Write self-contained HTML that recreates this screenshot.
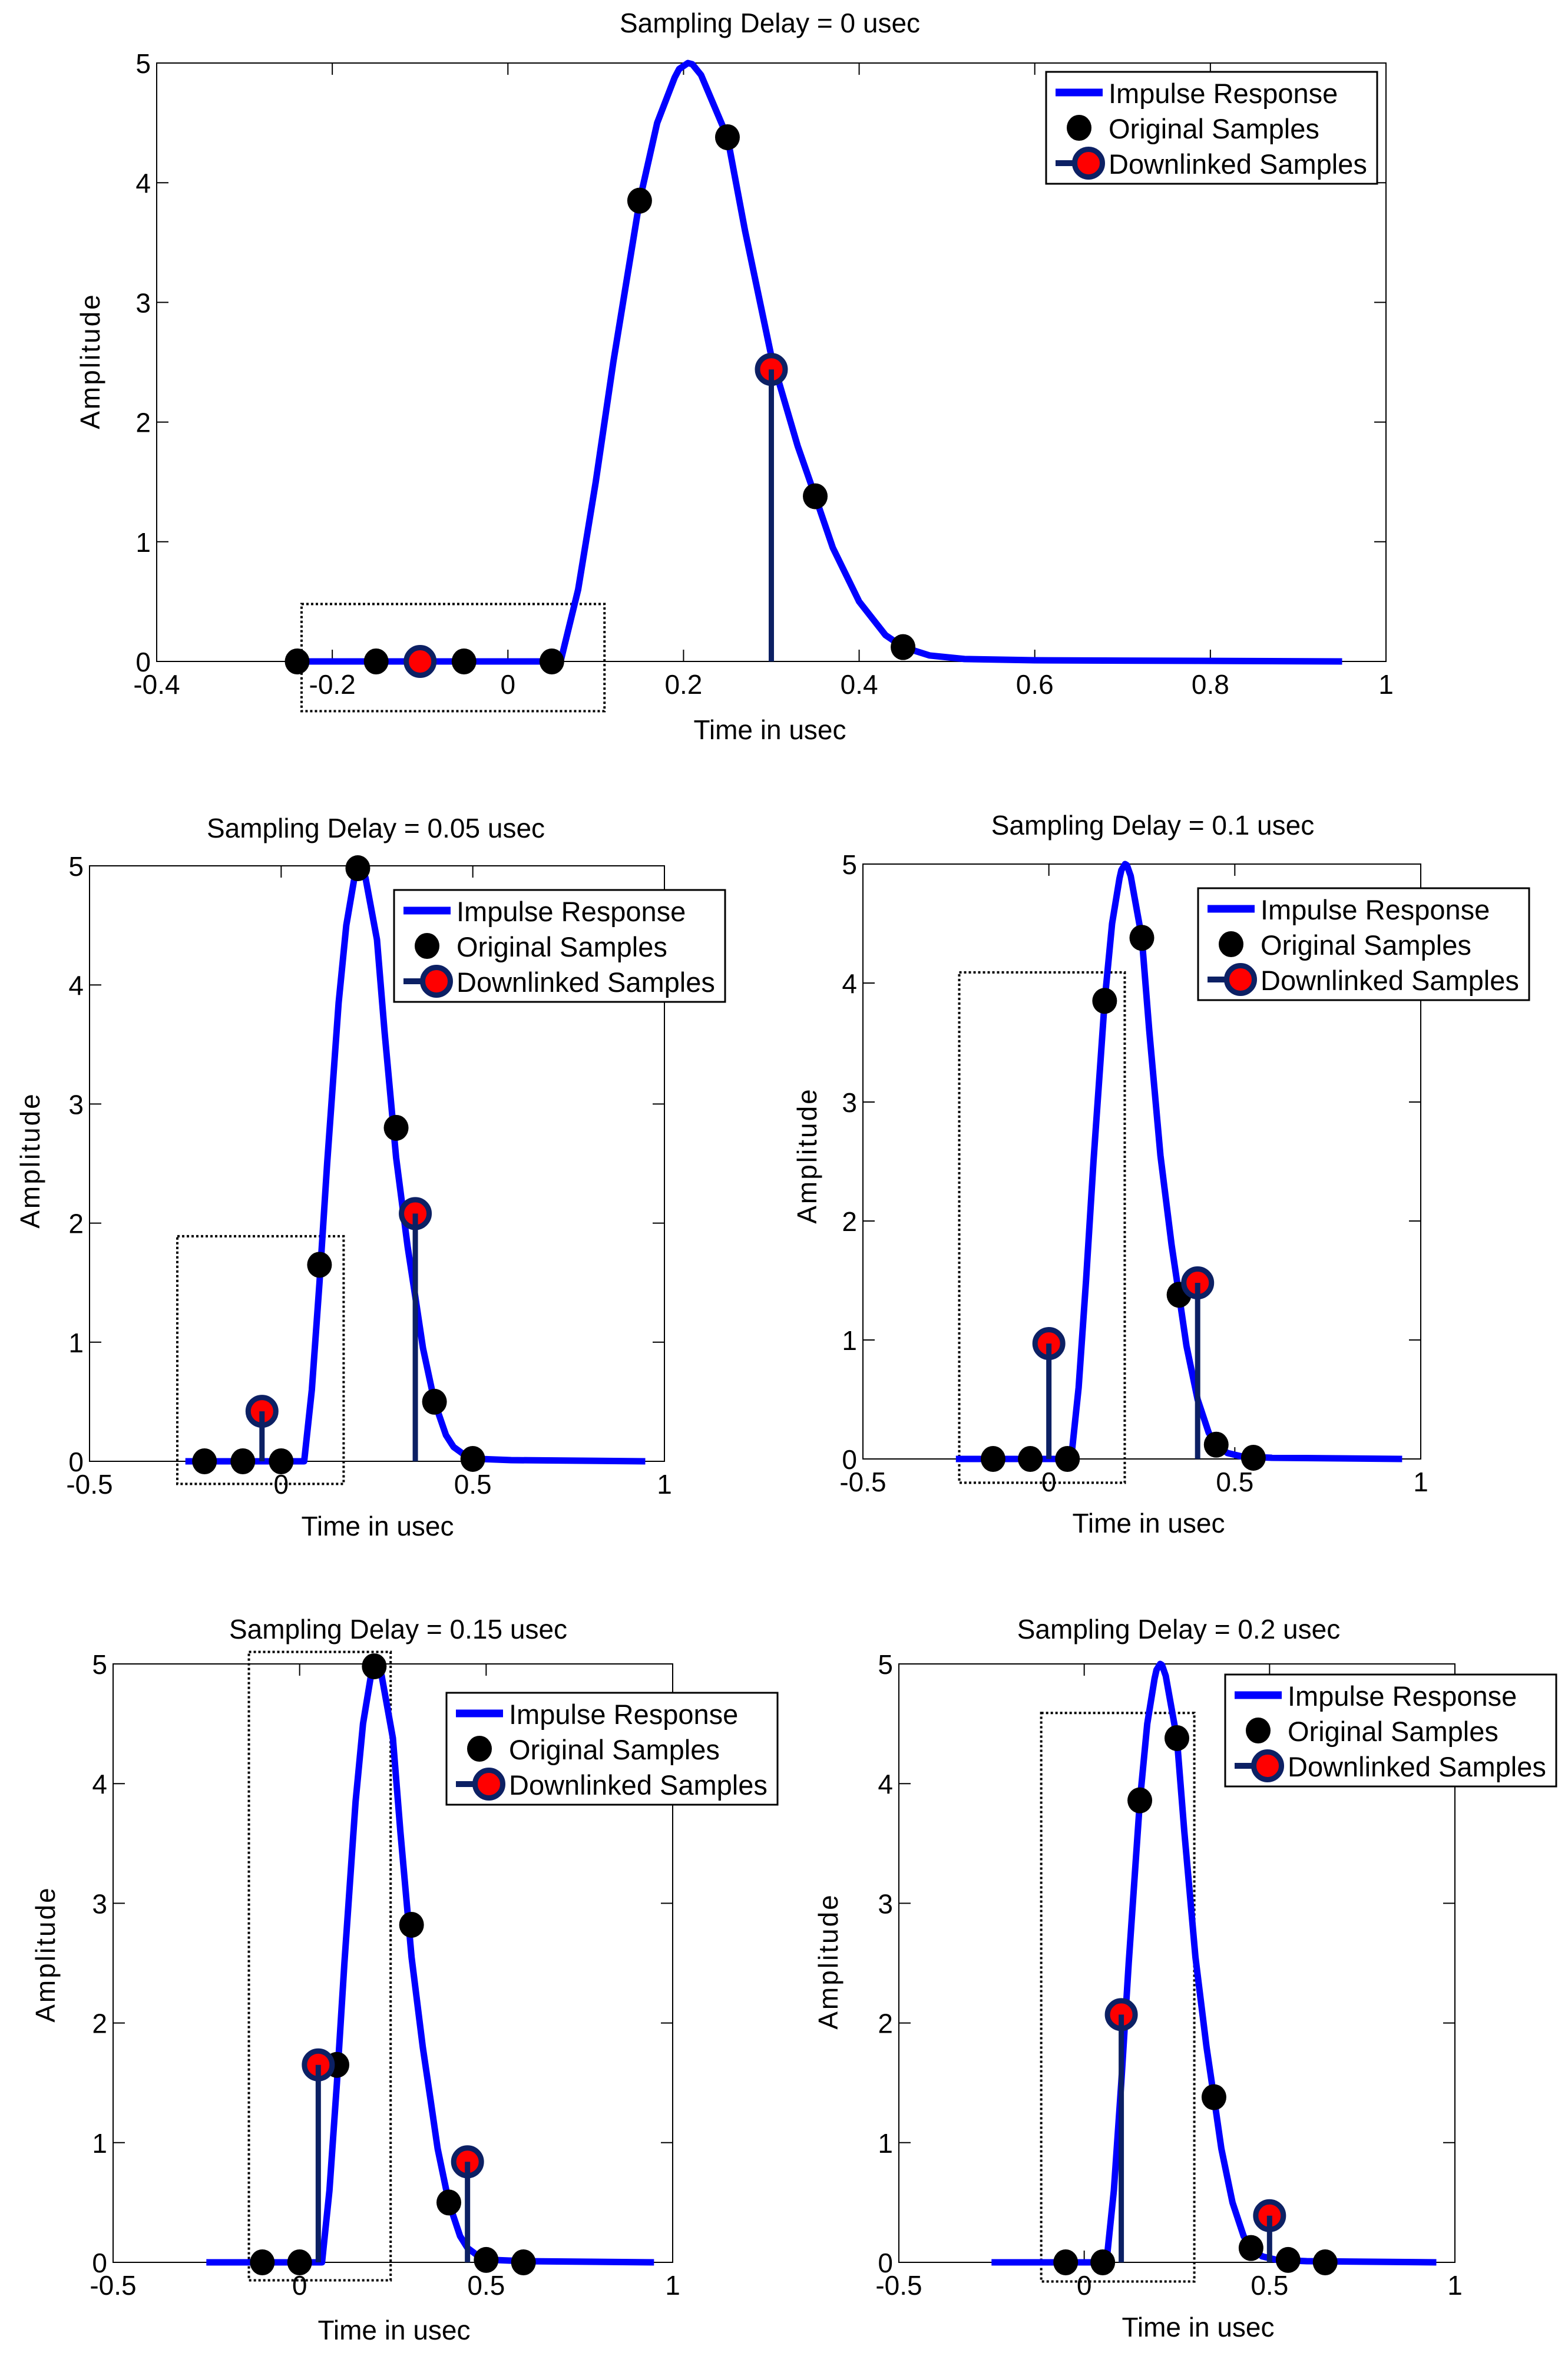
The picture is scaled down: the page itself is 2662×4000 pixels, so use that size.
<!DOCTYPE html>
<html><head><meta charset="utf-8"><style>
html,body{margin:0;padding:0;background:#fff;}
svg{display:block;font-family:"Liberation Sans",Arial,sans-serif;}
</style></head><body>
<svg id="fig" width="2662" height="4000" viewBox="0 0 2662 4000" xmlns="http://www.w3.org/2000/svg"></svg>
<script>
// Shared impulse response curve
const curveT = [-0.25,0.06,0.08,0.1,0.12,0.14,0.15,0.17,0.19,0.195,0.205,0.21,0.22,0.25,0.27,0.3,0.33,0.35,0.37,0.4,0.43,0.45,0.48,0.52,0.6,0.95];
const curveV = [0,0,0.6,1.5,2.5,3.4,3.85,4.5,4.88,4.95,5.0,4.99,4.9,4.38,3.6,2.55,1.8,1.38,0.95,0.5,0.22,0.12,0.05,0.02,0.01,0.0];

// Panel titles
const titles = ["Sampling Delay = 0 usec","Sampling Delay = 0.05 usec","Sampling Delay = 0.1 usec","Sampling Delay = 0.15 usec","Sampling Delay = 0.2 usec"];

// Original samples per panel
const origT0 = [-0.24,-0.15,-0.05,0.05,0.15,0.25,0.35,0.45];
const origV0 = [0,0,0,0,3.85,4.38,1.38,0.12];
const origT1 = [-0.2,-0.1,0,0.1,0.2,0.3,0.4,0.5];
const origV1 = [0,0,0,1.65,4.98,2.8,0.5,0.02];
const origT2 = [-0.15,-0.05,0.05,0.15,0.25,0.35,0.45,0.55];
const origV2 = [0,0,0,3.85,4.38,1.38,0.12,0.01];
const origT3 = [-0.1,0,0.1,0.2,0.3,0.4,0.5,0.6];
const origV3 = [0,0,1.65,4.98,2.82,0.5,0.02,0];
const origT4 = [-0.05,0.05,0.15,0.25,0.35,0.45,0.55,0.65];
const origV4 = [0,0,3.86,4.38,1.38,0.12,0.02,0];

// Downlinked samples per panel
const downT0 = [-0.1,0.3];   const downV0 = [0,2.44];
const downT1 = [-0.05,0.35]; const downV1 = [0.42,2.08];
const downT2 = [0,0.4];      const downV2 = [0.97,1.48];
const downT3 = [0.05,0.45];  const downV3 = [1.65,0.84];
const downT4 = [0.1,0.5];    const downV4 = [2.07,0.39];

// Dotted selection boxes
const boxT0=[-0.235,0.11];  const boxV0=[-0.415,0.48];
const boxT1=[-0.271,0.163]; const boxV1=[-0.19,1.89];
const boxT2=[-0.241,0.204]; const boxV2=[-0.2,4.09];
const boxT3=[-0.136,0.244]; const boxV3=[-0.15,5.1];
const boxT4=[-0.116,0.297]; const boxV4=[-0.16,4.59];

// Tick labels
const xTicksTop = [-0.4,-0.2,0,0.2,0.4,0.6,0.8,1];
const xTicksSmall = [-0.5,0,0.5,1];
const yTicks = [0,1,2,3,4,5];

const NS="http://www.w3.org/2000/svg";
const svg=document.getElementById('fig');
function mk(tag,attrs,parent){const e=document.createElementNS(NS,tag);for(const k in attrs)e.setAttribute(k,attrs[k]);(parent||svg).appendChild(e);return e;}

const panels=[
 {L:266,R:2353,T:107,B:1123,xmin:-0.4,xmax:1,xt:xTicksTop,title:[1307,55],xl:[1307,1255],yl:[153,613],leg:[1776,122],
  oT:origT0,oV:origV0,dT:downT0,dV:downV0,bT:boxT0,bV:boxV0},
 {L:152,R:1128,T:1470,B:2481,xmin:-0.5,xmax:1,xt:xTicksSmall,title:[638,1422],xl:[641,2607],yl:[51,1970],leg:[669,1511],
  oT:origT1,oV:origV1,dT:downT1,dV:downV1,bT:boxT1,bV:boxV1},
 {L:1465,R:2412,T:1467,B:2477,xmin:-0.5,xmax:1,xt:xTicksSmall,title:[1957,1417],xl:[1950,2602],yl:[1370,1962],leg:[2034,1508],
  oT:origT2,oV:origV2,dT:downT2,dV:downV2,bT:boxT2,bV:boxV2},
 {L:192,R:1142,T:2825,B:3841,xmin:-0.5,xmax:1,xt:xTicksSmall,title:[676,2782],xl:[669,3972],yl:[77,3318],leg:[758,2874],
  oT:origT3,oV:origV3,dT:downT3,dV:downV3,bT:boxT3,bV:boxV3},
 {L:1526,R:2470,T:2825,B:3841,xmin:-0.5,xmax:1,xt:xTicksSmall,title:[2001,2782],xl:[2034,3967],yl:[1406,3330],leg:[2080,2843],
  oT:origT4,oV:origV4,dT:downT4,dV:downV4,bT:boxT4,bV:boxV4}
];

panels.forEach((p,i)=>{
  const g=mk('g',{});
  
  
  const X=t=>p.L+(t-p.xmin)/(p.xmax-p.xmin)*(p.R-p.L);
  const Y=v=>p.B-v/5*(p.B-p.T);
  const box=mk('rect',{x:p.L,y:p.T,width:p.R-p.L,height:p.B-p.T,fill:'none',stroke:'#000','stroke-width':2},g);
  
  
  p.xt.forEach(t=>{
    const x=X(t);
    mk('line',{x1:x,y1:p.B,x2:x,y2:p.B-20,stroke:'#000','stroke-width':2},g);
    mk('line',{x1:x,y1:p.T,x2:x,y2:p.T+20,stroke:'#000','stroke-width':2},g);
    const tx=mk('text',{x:x,y:p.B+55,'font-size':46,'text-anchor':'middle',fill:'#000'},g);
    tx.textContent=String(t);
    
    
  });
  yTicks.forEach(v=>{
    const y=Y(v);
    mk('line',{x1:p.L,y1:y,x2:p.L+20,y2:y,stroke:'#000','stroke-width':2},g);
    mk('line',{x1:p.R,y1:y,x2:p.R-20,y2:y,stroke:'#000','stroke-width':2},g);
    const ty=mk('text',{x:p.L-10,y:y+17,'font-size':46,'text-anchor':'end',fill:'#000'},g);
    ty.textContent=String(v);
    
    
  });
  const db=mk('rect',{x:X(p.bT[0]),y:Y(p.bV[1]),width:X(p.bT[1])-X(p.bT[0]),height:Y(p.bV[0])-Y(p.bV[1]),fill:'none',stroke:'#000','stroke-width':4,'stroke-dasharray':'4 4'},g);
  
  
  const pts=curveT.map((t,k)=>X(t).toFixed(1)+','+Y(curveV[k]).toFixed(1)).join(' ');
  const pl=mk('polyline',{points:pts,fill:'none',stroke:'#0000ff','stroke-width':11,'stroke-linejoin':'round'},g);
  
  
  p.oT.forEach((t,k)=>{
    const c=mk('ellipse',{cx:X(t),cy:Y(p.oV[k]),rx:21,ry:22,fill:'#000'},g);
    
    
  });
  p.dT.forEach((t,k)=>{
    const c=mk('circle',{cx:X(t),cy:Y(p.dV[k]),r:23.5,fill:'#ff0000',stroke:'#0c2064','stroke-width':9},g);
    
    
    const s=mk('line',{x1:X(t),y1:p.B,x2:X(t),y2:Y(p.dV[k]),stroke:'#0c2064','stroke-width':9},g);
    
    
  });
  const tt=mk('text',{x:p.title[0],y:p.title[1],'font-size':46,'text-anchor':'middle',fill:'#000'},g);
  tt.textContent=titles[i];
  
  
  const xl=mk('text',{x:p.xl[0],y:p.xl[1],'font-size':46,'text-anchor':'middle',fill:'#000'},g);
  xl.textContent='Time in usec';
  
  
  const yl=mk('text',{x:0,y:0,'font-size':46,'text-anchor':'middle',fill:'#000','letter-spacing':3,transform:`translate(${p.yl[0]+16},${p.yl[1]}) rotate(-90)`},g);
  yl.textContent='Amplitude';
  
  
  const lx=p.leg[0], ly=p.leg[1];
  const lg=mk('g',{},g);
  
  
  mk('rect',{x:lx,y:ly,width:562,height:190,fill:'#fff',stroke:'#000','stroke-width':3},lg);
  mk('line',{x1:lx+16,y1:ly+35,x2:lx+96,y2:ly+35,stroke:'#0000ff','stroke-width':13},lg);
  mk('ellipse',{cx:lx+56,cy:ly+95,rx:21,ry:22,fill:'#000'},lg);
  mk('line',{x1:lx+16,y1:ly+155,x2:lx+60,y2:ly+155,stroke:'#0c2064','stroke-width':10},lg);
  mk('circle',{cx:lx+72,cy:ly+155,r:23.5,fill:'#ff0000',stroke:'#0c2064','stroke-width':9},lg);
  const labels=['Impulse Response','Original Samples','Downlinked Samples'];
  labels.forEach((s,k)=>{
    const t=mk('text',{x:lx+106,y:ly+53+k*60,'font-size':47,fill:'#000'},lg);
    t.textContent=s;
    
    
  });
});
</script>
</body></html>
